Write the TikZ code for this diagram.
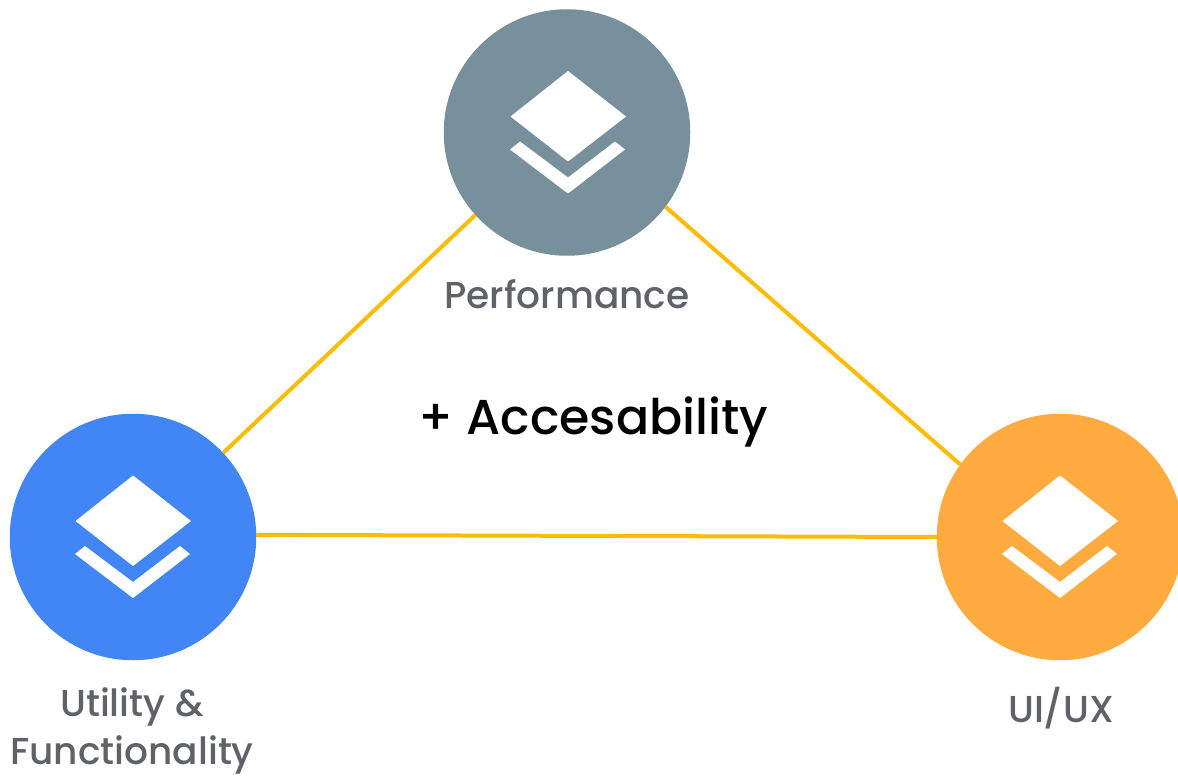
\documentclass[tikz,border=0pt]{standalone}
\usepackage{fontspec}
\setmainfont{Poppins Medium}
\definecolor{perf}{HTML}{78909C}
\definecolor{util}{HTML}{4285F4}
\definecolor{uiux}{HTML}{FFAB40}
\definecolor{link}{HTML}{FBBC04}
\definecolor{lab}{HTML}{5F6368}
\tikzset{
  x=1pt,y=-1pt,
  hub/.style={circle,minimum size=246.5pt,inner sep=0pt,outer sep=0pt,fill=#1},
  linkline/.style={draw=link,line width=4pt},
  hublabel/.style={text=lab,font=\fontsize{37.5}{48}\selectfont,align=center,inner sep=0pt},
  layers/.pic={
    \fill[white] (1,-61.5) -- (59,-16) -- (1,29) -- (-56.5,-16) -- cycle;
    \fill[white] (-57,17) -- (-47,9) -- (1,45) -- (48,9) -- (58,17) -- (1,61) -- cycle;
  }
}
\begin{document}
\begin{tikzpicture}
\useasboundingbox (0,0) rectangle (1178,778);
\clip (0,0) rectangle (1178,778);
\node[hub=perf] (top) at (567,132.5) {};
\node[hub=util] (left) at (133,537) {};
\node[hub=uiux] (right) at (1060,537) {};
\draw[linkline] (left.43.7) -- (top.222.7);
\draw[linkline] (top.-37.8) -- (right.144.8);
\draw[linkline] (left.1) -- (right.180);
\pic at (top) {layers};
\pic at ([xshift=-1pt]left) {layers};
\pic at ([xshift=-1pt]right) {layers};
\node[hublabel] (perflabel) at (567,294) {Performance};
\node[hublabel] (utillabel) at (132,731) {Utility \&\\Functionality};
\node[hublabel] (uilabel) at (1061,708) {UI/UX};
\node[inner sep=0pt,text=black,font=\fontsize{49}{60}\selectfont] (acc) at (593.5,422) {+ Accesability};
\end{tikzpicture}
\end{document}
